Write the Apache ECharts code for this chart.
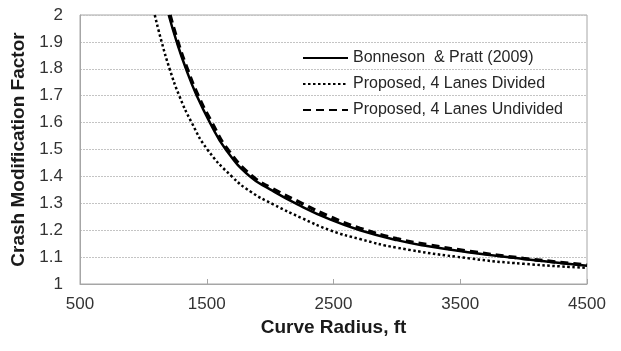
<!DOCTYPE html>
<html>
<head>
<meta charset="utf-8">
<script src="https://cdn.jsdelivr.net/npm/echarts@6/dist/echarts.min.js"></script>
<style>
  html, body { margin: 0; padding: 0; background: #fff; }
  #chart { width: 621px; height: 351px; }
</style>
</head>
<body>
<div id="chart"></div>
<script>
// values
const radiusTicks = [500, 1500, 2500, 3500, 4500]

const bpRadius = [1200, 1263, 1336, 1421, 1525, 1650, 1840, 2000, 2220, 2472, 2709, 3000, 3250, 3577, 4000, 4500]
const bpCmf = [2.0, 1.9, 1.8, 1.7, 1.6, 1.5, 1.4, 1.352, 1.295, 1.24, 1.2, 1.163, 1.14, 1.117, 1.093, 1.068]

const divRadius = [1090, 1144, 1207, 1283, 1381, 1505, 1697, 1850, 2030, 2250, 2472, 2709, 3000, 3577, 4000, 4500]
const divCmf = [2.0, 1.9, 1.8, 1.7, 1.6, 1.5, 1.4, 1.342, 1.295, 1.245, 1.2, 1.167, 1.135, 1.095, 1.075, 1.06]

const undivRadius = [1210, 1272, 1346, 1432, 1540, 1665, 1860, 2020, 2240, 2472, 2709, 3000, 3250, 3577, 4000, 4500]
const undivCmf = [2.0, 1.9, 1.8, 1.7, 1.6, 1.5, 1.4, 1.354, 1.302, 1.25, 1.207, 1.168, 1.145, 1.121, 1.095, 1.07]

const seriesNames = ['Bonneson  & Pratt (2009)', 'Proposed, 4 Lanes Divided', 'Proposed, 4 Lanes Undivided']

const pairs = (xs, ys) => xs.map((x, i) => [x, ys[i]])

const myChart = echarts.init(document.getElementById('chart'))

const option = {
    animation: false,
    color: ['#000', '#000', '#000'],
    textStyle: { fontFamily: 'Liberation Sans, Arial, sans-serif' },
    grid: {
        left: 80,
        right: 34,
        top: 15,
        bottom: 67,
        show: true,
        borderColor: '#a6a6a6',
        borderWidth: 1
    },
    legend: {
        data: seriesNames,
        orient: 'vertical',
        left: 297,
        top: 45,
        itemWidth: 45,
        itemHeight: 14,
        itemGap: 10,
        itemStyle: { opacity: 0 },
        textStyle: { color: '#262626', fontSize: 16 }
    },
    xAxis: {
        type: 'value',
        min: 500,
        max: 4500,
        interval: 1000,
        name: 'Curve Radius, ft',
        nameLocation: 'middle',
        nameGap: 33,
        nameTextStyle: { color: '#1a1a1a', fontSize: 19, fontWeight: 'bold' },
        axisLine: { lineStyle: { color: '#a6a6a6' } },
        axisTick: { show: true, inside: true, length: 5, lineStyle: { color: '#a6a6a6' } },
        axisLabel: {
            color: '#333',
            fontSize: 17,
            margin: 12,
            customValues: radiusTicks,
            formatter: v => String(v)
        },
        splitLine: { show: false }
    },
    yAxis: {
        type: 'value',
        min: 1,
        max: 2,
        interval: 0.1,
        name: 'Crash Modification Factor',
        nameLocation: 'middle',
        nameGap: 47,
        nameTextStyle: { color: '#1a1a1a', fontSize: 19, fontWeight: 'bold' },
        axisLine: { show: true, lineStyle: { color: '#a6a6a6' } },
        axisTick: { show: false },
        axisLabel: { color: '#333', fontSize: 17, margin: 17 },
        splitLine: { lineStyle: { color: '#c4c4c4', type: [2, 1], width: 1 } }
    },
    series: [
        {
            name: seriesNames[0],
            type: 'line',
            smooth: 0.5,
            symbol: 'none',
            lineStyle: { color: '#000', width: 2.5 },
            data: pairs(bpRadius, bpCmf)
        },
        {
            name: seriesNames[1],
            type: 'line',
            smooth: 0.5,
            symbol: 'none',
            lineStyle: { color: '#000', width: 2.5, type: [2.5, 2.5] },
            data: pairs(divRadius, divCmf)
        },
        {
            name: seriesNames[2],
            type: 'line',
            smooth: 0.5,
            symbol: 'none',
            lineStyle: { color: '#000', width: 3.5, type: [8, 5] },
            data: pairs(undivRadius, undivCmf)
        }
    ]
}

myChart.setOption(option)
window.onresize = () => myChart.resize()
</script>
</body>
</html>
